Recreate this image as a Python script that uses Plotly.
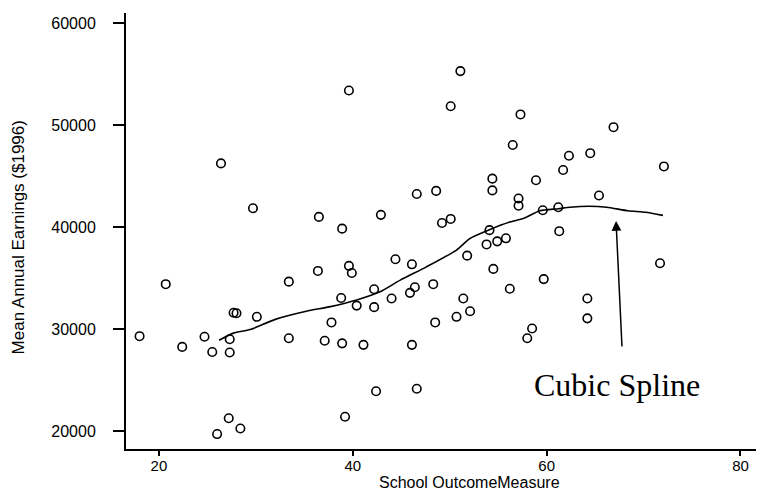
import plotly.graph_objects as go

# School outcome measure (x) and mean annual earnings in 1996 dollars (y)
school_outcome = [
    18.0, 20.7, 22.4, 24.7, 25.5, 27.3, 27.3, 27.7, 28.0, 30.1,
    33.4, 33.4, 36.4, 37.1, 37.8, 38.8, 38.9, 39.6, 39.9, 40.4,
    41.1, 42.2, 42.2, 42.4, 44.0, 44.4, 45.9, 46.4, 46.1, 46.1,
    46.6, 48.3, 48.5, 50.7, 51.4, 52.1, 51.8, 27.2, 26.0, 28.4,
    39.2, 51.1, 39.6, 50.1, 26.4, 29.7, 36.5, 38.9, 42.9, 46.6,
    48.6, 49.2, 50.1, 57.3, 56.5, 66.9, 62.3, 64.5, 61.7, 72.1,
    54.4, 54.4, 58.9, 57.1, 57.1, 65.4, 59.6, 61.2, 54.1, 53.8,
    54.9, 55.8, 61.3, 54.5, 59.7, 56.2, 64.2, 64.2, 58.5, 58.0,
    71.7,
]
mean_earnings = [
    29300, 34400, 28250, 29250, 27750, 29000, 27700, 31600, 31550, 31200,
    34650, 29100, 35700, 28850, 30650, 33050, 28600, 36200, 35500, 32300,
    28450, 33900, 32150, 23900, 33000, 36850, 33550, 34100, 36350, 28450,
    24150, 34400, 30650, 31200, 33000, 31750, 37200, 21250, 19700, 20250,
    21400, 55300, 53400, 51850, 46250, 41850, 41000, 39850, 41200, 43250,
    43550, 40400, 40800, 51050, 48050, 49800, 47000, 47250, 45600, 45950,
    44750, 43600, 44600, 42800, 42100, 43100, 41650, 41950, 39700, 38300,
    38600, 38900, 39600, 35900, 34900, 33950, 33000, 31050, 30050, 29100,
    36450,
]

# Fitted cubic spline curve
spline_x = [26.2, 27.7, 29.4, 32.0, 35.2, 37.7, 40.4, 42.8, 44.9, 47.6,
            50.7, 52.1, 54.1, 56.2, 57.6, 59.3, 61.2, 62.4, 64.4, 66.2,
            68.4, 70.2, 72.0]
spline_y = [28900, 29600, 29950, 30950, 31750, 32200, 32850, 33650, 34800, 36100,
            37750, 38900, 39750, 40500, 40850, 41600, 41800, 41950, 42050, 41950,
            41600, 41450, 41150]

x_ticks = [20, 40, 60, 80]
y_ticks = [20000, 30000, 40000, 50000, 60000]

fig = go.Figure()
fig.add_trace(go.Scatter(
    x=school_outcome, y=mean_earnings, mode="markers",
    marker=dict(symbol="circle-open", size=8.5, color="black", line=dict(width=1.6, color="black")),
    showlegend=False, hoverinfo="skip",
))
fig.add_trace(go.Scatter(
    x=spline_x, y=spline_y, mode="lines",
    line=dict(color="black", width=1.6, shape="spline", smoothing=0.6),
    showlegend=False, hoverinfo="skip",
))

font_sans = "Liberation Sans, Arial, sans-serif"

fig.update_layout(
    width=757, height=493,
    margin=dict(l=126, r=1, t=13, b=44),
    paper_bgcolor="white", plot_bgcolor="white",
    font=dict(family=font_sans, size=16, color="black"),
    xaxis=dict(
        range=[16.6, 81.6], tickvals=x_ticks, ticktext=[str(v) for v in x_ticks],
        showgrid=False, zeroline=False, showline=True, linecolor="black", linewidth=2,
        ticks="outside", ticklen=5, tickwidth=1.5, tickcolor="black",
        tickfont=dict(family=font_sans, size=15, color="black"),
        ticklabelstandoff=-3,
    ),
    yaxis=dict(
        range=[18235, 61000], tickvals=y_ticks, ticktext=[str(v) for v in y_ticks],
        showgrid=False, zeroline=False, showline=True, linecolor="black", linewidth=2,
        ticks="outside", ticklen=11, tickwidth=1.5, tickcolor="black",
        tickfont=dict(family=font_sans, size=16, color="black"),
        ticklabelstandoff=14,
    ),
    annotations=[
        dict(text="School OutcomeMeasure", xref="paper", yref="paper",
             x=0.546, y=-0.0986, xanchor="center", yanchor="bottom", showarrow=False,
             borderpad=0, font=dict(family=font_sans, size=16, color="black")),
        dict(text="Mean Annual Earnings ($1996)", xref="paper", yref="paper",
             x=-0.17, y=0.485, xanchor="center", yanchor="middle", showarrow=False,
             textangle=-90, font=dict(family=font_sans, size=17, color="black")),
        dict(text="Cubic Spline", xref="x", yref="y", x=67.27, y=24510,
             xanchor="center", yanchor="middle", showarrow=False,
             font=dict(family="Liberation Serif, Times New Roman, serif", size=32, color="black")),
        dict(text="", xref="x", yref="y", x=67.16, y=40590,
             axref="x", ayref="y", ax=67.78, ay=28140,
             showarrow=True, arrowhead=2, arrowsize=1.3, arrowwidth=1.5, arrowcolor="black"),
    ],
)

fig.write_html("out.html")
